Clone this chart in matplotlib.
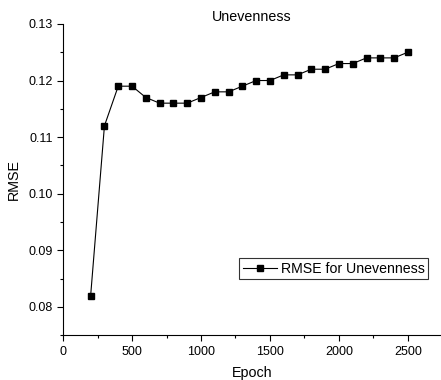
import numpy as np
import matplotlib.pyplot as plt
from matplotlib.ticker import MultipleLocator

plt.rcParams['font.family'] = ['Liberation Sans', 'DejaVu Sans']

epochs = [200, 300, 400, 500, 600, 700, 800, 900, 1000, 1100, 1200, 1300,
          1400, 1500, 1600, 1700, 1800, 1900, 2000, 2100, 2200, 2300, 2400, 2500]
rmse = [0.082, 0.112, 0.119, 0.119, 0.117, 0.116, 0.116, 0.116, 0.117, 0.118, 0.118, 0.119,
        0.120, 0.120, 0.121, 0.121, 0.122, 0.122, 0.123, 0.123, 0.124, 0.124, 0.124, 0.125]

fig = plt.figure(figsize=(4.41, 3.80), dpi=100)
ax = fig.add_axes([0.143, 0.118, 0.857, 0.819])

ax.plot(epochs, rmse, color='black', lw=0.8, marker='s', ms=4.5,
        label='RMSE for Unevenness')

ax.set_xlim(0, 2740)
ax.set_ylim(0.075, 0.13)
ax.xaxis.set_major_locator(MultipleLocator(500))
ax.xaxis.set_minor_locator(MultipleLocator(250))
ax.yaxis.set_minor_locator(MultipleLocator(0.005))
ax.set_yticks([0.08, 0.09, 0.10, 0.11, 0.12, 0.13])
ax.set_yticklabels(['0.08', '0.09', '0.10', '0.11', '0.12', '0.13'])

for s in ['top', 'right']:
    ax.spines[s].set_visible(False)
ax.tick_params(which='major', direction='out', length=4, width=0.8, labelsize=9)
ax.tick_params(which='minor', direction='out', length=2, width=0.8)

ax.set_xlabel('Epoch', fontsize=10.3, labelpad=6)
ax.set_ylabel('RMSE', fontsize=10.3, labelpad=5)
ax.set_title('Unevenness', fontsize=10.3, pad=2)

leg = ax.legend(loc='upper left', bbox_to_anchor=(0.466, 0.248), fontsize=10.2,
                frameon=True, fancybox=False, edgecolor='black', handlelength=2.4,
                borderpad=0.25, handletextpad=0.3, borderaxespad=0)
leg.get_frame().set_linewidth(0.8)

fig.savefig('out.png', dpi=100)
